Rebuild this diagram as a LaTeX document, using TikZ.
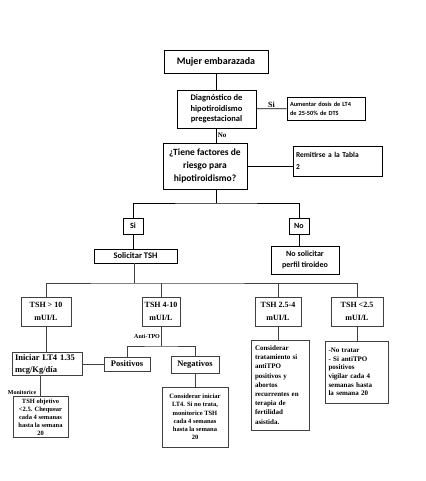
\documentclass[tikz,border=0pt]{standalone}
\usepackage{fontspec}
\setmainfont{Liberation Serif}
\newfontfamily\calibri{Carlito}

\newcommand{\fsz}[2]{\fontsize{#1}{#2}\selectfont}

\begin{document}
\begin{tikzpicture}[x=1pt, y=-1pt, line width=0.8pt,
    topbox/.style={draw, align=center, inner sep=2pt},
    lowbox/.style={draw=black!75, align=center, inner sep=2pt},
    cal/.style 2 args={font=\calibri\bfseries\fsz{#1}{#2}},
    rom/.style 2 args={font=\bfseries\fsz{#1}{#2}},
    lbl/.style={inner sep=1pt}]
    \useasboundingbox (0,0) rectangle (425,481);

    % Nodes {top}
    \node [topbox, cal={10}{12}, minimum width=104, minimum height=23] (mujer) at (216,61.5) {Mujer embarazada};
    \node [topbox, cal={8.5}{10.5}, minimum width=79, minimum height=38] (diag) at (216.5,109) {Diagnóstico de\\hipotiroidismo\\pregestacional};
    \node [topbox, cal={6.3}{9.3}, minimum width=78, minimum height=23, align=left, text width=72] (aum) at (326,108.5) {Aumentar dosis de LT4\\de 25-50\% de DTS};
    \node [topbox, cal={9.5}{13}, minimum width=84, minimum height=46] (tiene) at (205,166) {¿Tiene factores de\\riesgo para\\hipotiroidismo?};
    \node [topbox, cal={7.5}{12}, minimum width=89, minimum height=30, align=left, text width=83] (remit) at (337.5,161) {Remitirse a la Tabla\\2};
    \node [topbox, cal={8}{9}, minimum width=20, minimum height=16] (si) at (133,226) {Si};
    \node [topbox, cal={8}{9}, minimum width=20, minimum height=16] (no) at (299,226) {No};
    \node [topbox, cal={8.5}{10}, minimum width=83, minimum height=14] (solic) at (135.5,256) {Solicitar TSH};
    \node [topbox, cal={8}{10.5}, minimum width=68, minimum height=28] (nosolic) at (305,260) {No solicitar\\perfil tiroideo};

    % Nodes {TSH}
    \node [lowbox, rom={8}{13}, minimum width=50, minimum height=29] (tsh10) at (46,311.5) {TSH > 10\\mUI/L};
    \node [lowbox, rom={8}{13}, minimum width=38, minimum height=29] (tsh410) at (161,311.5) {TSH 4-10\\mUI/L};
    \node [lowbox, rom={8}{13}, minimum width=46, minimum height=29] (tsh254) at (278,311.5) {TSH 2.5-4\\mUI/L};
    \node [lowbox, rom={8}{13}, minimum width=52, minimum height=29] (tsh25) at (357,311.5) {TSH <2.5\\mUI/L};

    % Nodes {bottom}
    \node [lowbox, rom={8.5}{12}, minimum width=70, minimum height=22, align=left, text width=64] (ini) at (47,364) {Iniciar LT4 1.35\\mcg/Kg/día};
    \node [lowbox, rom={6.5}{8}, minimum width=55, minimum height=40] (tshobj) at (40.5,417) {TSH objetivo\\<2.5. Chequear\\cada 4 semanas\\hasta la semana\\20};
    \node [lowbox, rom={8.5}{10}, minimum width=46, minimum height=14] (pos) at (127,364) {Positivos};
    \node [lowbox, rom={8.5}{10}, minimum width=48, minimum height=17] (neg) at (195,364.5) {Negativos};
    \node [lowbox, rom={6.5}{8.3}, minimum width=66, minimum height=60] (consini) at (195,417) {Considerar iniciar\\LT4. Si no trata,\\monitorice TSH\\cada 4 semanas\\hasta la semana\\20};
    \node [lowbox, rom={7}{9.2}, minimum width=58, minimum height=90, align=left, text width=50] (constrat) at (280,385) {Considerar\\tratamiento si\\antiTPO\\positivos y\\abortos\\recurrentes en\\terapia de\\fertilidad\\asistida.};
    \node [lowbox, rom={7}{8.6}, minimum width=63, minimum height=62, align=left, text width=56] (notrat) at (356.5,372) {-No tratar\\- Si antiTPO\\positivos\\vigilar cada 4\\semanas hasta\\la semana 20};

    % Labels
    \node [lbl, rom={6}{7}] (antitpo) at (147,336) {Anti-TPO};
    \node [lbl, rom={6}{7}] (monit) at (22,392) {Monitorice};

    % Bus points
    \coordinate (bt) at (216,203);
    \coordinate (bb) at (134,283);
    \coordinate (at) at (161,346);

    % Paths
    \draw (mujer.south) -- (mujer.south |- diag.north);
    \path [draw] (diag) edge node [lbl, rom={8}{9}, above] {Si} (aum);
    \draw (diag.south) -- node [lbl, rom={7}{8}, right] {No} (diag.south |- tiene.north);
    \draw (tiene.east) -- (tiene.east -| remit.west);
    \draw (bt |- tiene.south) -- (bt);
    \draw (si.north) |- (bt) -| (no.north);
    \draw (si.south) -- (si.south |- solic.north);
    \draw (no.south) -- (no.south |- nosolic.north);
    \draw [black!75] (bb |- solic.south) -- (bb);
    \draw [black!75] (tsh10.north) |- (bb) -| (tsh25.north);
    \draw [black!75] (tsh410.north) -- (tsh410.north |- bb);
    \draw [black!75] (tsh254.north) -- (tsh254.north |- bb);
    \draw [black!75] (tsh10.south) -- (tsh10.south |- ini.north);
    \draw [black!75] (ini.east) -- (ini.east -| pos.west);
    \draw [black!75] (tshobj.north |- ini.south) -- (tshobj.north);
    \draw [black!75] (tsh410.south) -- (at);
    \draw [black!75] (pos.north) |- (at) -| (neg.north);
    \draw [black!75] (neg.south) -- (neg.south |- consini.north);
    \draw [black!75] (tsh254.south) -- (tsh254.south |- constrat.north);
    \draw [black!75] (tsh25.south) -- (tsh25.south |- notrat.north);
\end{tikzpicture}
\end{document}
